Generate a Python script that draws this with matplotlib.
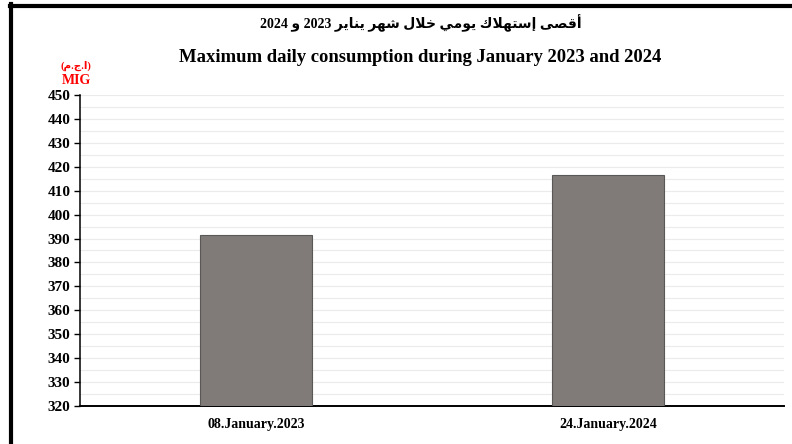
import matplotlib.pyplot as plt
from matplotlib.lines import Line2D

# data
dates = ["08.January.2023", "24.January.2024"]
values = [391.5, 416.4]
y_ticks = list(range(320, 451, 10))

title_ar = "أقصى إستهلاك يومي خلال شهر يناير 2023 و 2024"
title_en = "Maximum daily consumption during January 2023 and 2024"

# minimal arabic shaping: (isolated, final, initial, medial)
FORMS = {
    "ا": ("\uFE8D", "\uFE8E", None, None),
    "أ": ("\uFE83", "\uFE84", None, None),
    "إ": ("\uFE87", "\uFE88", None, None),
    "ى": ("\uFEEF", "\uFEF0", None, None),
    "و": ("\uFEED", "\uFEEE", None, None),
    "ر": ("\uFEAD", "\uFEAE", None, None),
    "ق": ("\uFED5", "\uFED6", "\uFED7", "\uFED8"),
    "ص": ("\uFEB9", "\uFEBA", "\uFEBB", "\uFEBC"),
    "س": ("\uFEB1", "\uFEB2", "\uFEB3", "\uFEB4"),
    "ت": ("\uFE95", "\uFE96", "\uFE97", "\uFE98"),
    "ه": ("\uFEE9", "\uFEEA", "\uFEEB", "\uFEEC"),
    "ل": ("\uFEDD", "\uFEDE", "\uFEDF", "\uFEE0"),
    "ك": ("\uFED9", "\uFEDA", "\uFEDB", "\uFEDC"),
    "ي": ("\uFEF1", "\uFEF2", "\uFEF3", "\uFEF4"),
    "م": ("\uFEE1", "\uFEE2", "\uFEE3", "\uFEE4"),
    "خ": ("\uFEA5", "\uFEA6", "\uFEA7", "\uFEA8"),
    "ش": ("\uFEB5", "\uFEB6", "\uFEB7", "\uFEB8"),
    "ن": ("\uFEE5", "\uFEE6", "\uFEE7", "\uFEE8"),
    "ج": ("\uFE9D", "\uFE9E", "\uFE9F", "\uFEA0"),
}
LAM_ALEF = {"ا": ("\uFEFB", "\uFEFC"), "أ": ("\uFEF7", "\uFEF8"),
            "إ": ("\uFEF9", "\uFEFA")}


def shape_word(w):
    out = []
    i = 0
    prev_joins = False
    while i < len(w):
        c = w[i]
        if c not in FORMS:
            out.append(c)
            prev_joins = False
            i += 1
            continue
        if c == "ل" and i + 1 < len(w) and w[i + 1] in LAM_ALEF:
            out.append(LAM_ALEF[w[i + 1]][1 if prev_joins else 0])
            prev_joins = False
            i += 2
            continue
        f = FORMS[c]
        dual = f[2] is not None
        next_joins = dual and i + 1 < len(w) and w[i + 1] in FORMS
        if prev_joins and next_joins:
            out.append(f[3])
        elif prev_joins:
            out.append(f[1])
        elif next_joins:
            out.append(f[2])
        else:
            out.append(f[0])
        prev_joins = next_joins
        i += 1
    return "".join(out)


def rtl(text):
    words = []
    for w in text.split(" "):
        if any(ch in FORMS for ch in w):
            words.append(shape_word(w)[::-1])
        else:
            words.append(w)
    return " ".join(words[::-1])


serif = ["Liberation Serif", "DejaVu Sans"]
plt.rcParams["font.family"] = serif
plt.rcParams["font.weight"] = "bold"

fig = plt.figure(figsize=(7.92, 4.44), dpi=100)
ax = fig.add_axes([0.101, 0.0856, 0.889, 0.7005])

x = list(range(len(dates)))
ax.bar(x, [v - 320 for v in values], bottom=320, width=0.32,
       color="#807b79", edgecolor="#5a5757", linewidth=0.8, zorder=3)

ax.set_xlim(-0.5, 1.5)
ax.set_ylim(320, 450)
ax.set_yticks(y_ticks)
ax.set_yticklabels([str(t) for t in y_ticks], fontsize=11, fontweight="bold")
ax.set_yticks(list(range(325, 450, 10)), minor=True)
ax.set_xticks(x)
ax.set_xticklabels(dates, fontsize=10, fontweight="bold")
ax.tick_params(axis="x", length=0, pad=9)
ax.tick_params(axis="y", which="major", length=4, width=1, pad=3)
ax.tick_params(axis="y", which="minor", length=0)
ax.grid(axis="y", which="both", color="#ebebeb", linewidth=0.8, zorder=0)
ax.spines["top"].set_visible(False)
ax.spines["right"].set_visible(False)
ax.spines["left"].set_linewidth(1.1)
ax.spines["bottom"].set_linewidth(1.4)

# titles
fig.text(0.531, 0.948, rtl(title_ar), ha="center", va="center",
         fontsize=10, fontweight="bold", family=serif)
fig.text(0.53, 0.871, title_en, ha="center", va="center",
         fontsize=13.4, fontweight="bold")

# unit label
fig.text(0.096, 0.851, "(\uFEE1.\uFE9D.\uFE8D)", ha="center", va="center",
         fontsize=7.5, fontweight="bold", color="red", family=serif)
fig.text(0.096, 0.818, "MIG", ha="center", va="center",
         fontsize=10, fontweight="bold", color="red")

# frame lines at top and left
fig.add_artist(Line2D([0.0125, 1.0], [0.987, 0.987], color="black",
                      linewidth=3, transform=fig.transFigure))
fig.add_artist(Line2D([0.0135, 0.0135], [0.0, 0.99], color="black",
                      linewidth=3, transform=fig.transFigure))

fig.savefig("out.png", dpi=100)
